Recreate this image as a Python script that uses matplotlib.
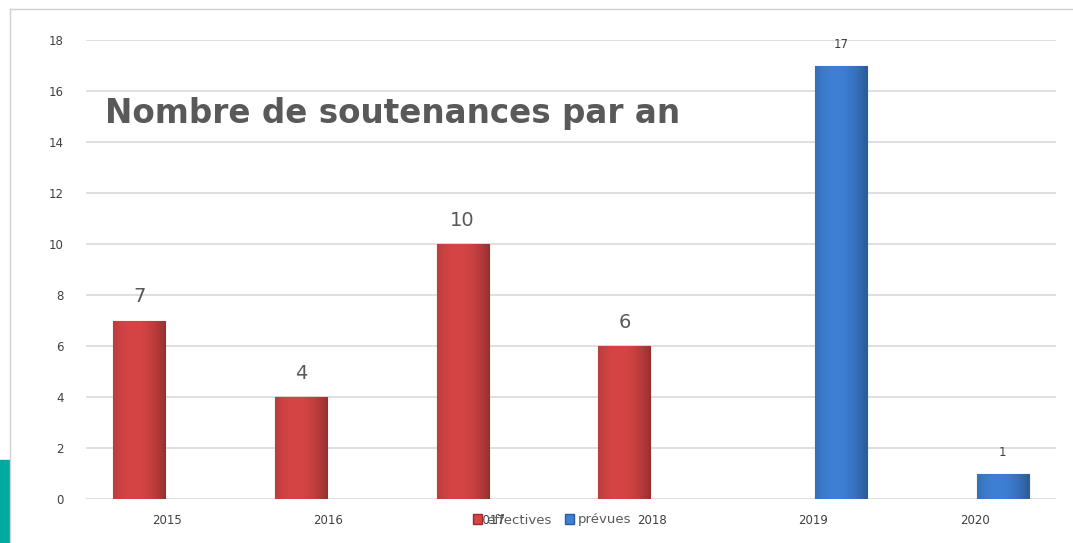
import matplotlib
matplotlib.use("Agg")
import matplotlib.pyplot as plt
import matplotlib.patches as mpatches
import numpy as np

years = ["2015", "2016", "2017", "2018", "2019", "2020"]
effectives = [7, 4, 10, 6, 0, 0]
prevues = [0, 0, 0, 0, 17, 1]
yticks = [0, 2, 4, 6, 8, 10, 12, 14, 16, 18]

red = "#d64545"
red_edge = "#9e2a2a"
blue = "#3d80d4"
blue_edge = "#2a5c9e"
text_gray = "#595959"

fig = plt.figure(figsize=(10.73, 5.43), dpi=100)
W, H = 1073, 543
ax = fig.add_axes([86 / W, 1 - 499 / H, (1056 - 86) / W, (499 - 40) / H])


def shaded_bar(xc, h, color, edge):
    # bar with a soft horizontal shading, like the office chart bevel
    b = ax.bar(xc, h, w, color=color, edgecolor=edge, linewidth=0.8, zorder=3)[0]
    rgb = np.array(matplotlib.colors.to_rgb(color))
    dark = rgb * 0.72
    t = np.linspace(0, 1, 64)
    prof = 1 - (np.abs(t - 0.4) / 0.6) ** 2
    img = dark[None, :] + (rgb - dark)[None, :] * prof[:, None]
    im = ax.imshow(img[None, :, :], extent=[xc - w / 2, xc + w / 2, 0, h],
                   aspect="auto", zorder=3.5, interpolation="bilinear")
    im.set_clip_path(b)


x = np.arange(len(years))
w = 0.32
off = 0.17
for i in range(len(years)):
    if effectives[i] > 0:
        shaded_bar(x[i] - off, effectives[i], red, red_edge)
        ax.text(x[i] - off, effectives[i] + 0.55, str(effectives[i]), ha="center", va="bottom",
                fontsize=14, color=text_gray)
    if prevues[i] > 0:
        shaded_bar(x[i] + off, prevues[i], blue, blue_edge)
        ax.text(x[i] + off, prevues[i] + 0.55, str(prevues[i]), ha="center", va="bottom",
                fontsize=8.5, color="#404040")

ax.set_xlim(-0.5, len(years) - 0.5)
ax.set_ylim(0, 18)
ax.set_yticks(yticks)
ax.set_xticks(x)
ax.set_xticklabels(years)
ax.tick_params(axis="both", length=0, labelsize=8.5, labelcolor="#404040")
ax.tick_params(axis="y", pad=16)
ax.tick_params(axis="x", pad=11)
ax.grid(axis="y", color="#d9d9d9", linewidth=1.2, zorder=0)
for s in ax.spines.values():
    s.set_visible(False)

# legend sits on the x tick label row
handles = [mpatches.Patch(facecolor=red, edgecolor=red_edge, label="effectives"),
           mpatches.Patch(facecolor=blue, edgecolor=blue_edge, label="prévues")]
leg = fig.legend(handles=handles, loc="center", bbox_to_anchor=(552 / W, 1 - 520 / H), ncol=2,
                 frameon=False, fontsize=9.5, handlelength=0.7, handleheight=0.7,
                 handletextpad=0.3, columnspacing=1.0)
for t in leg.get_texts():
    t.set_color(text_gray)

fig.text(105 / W, 1 - 113 / H, "Nombre de soutenances par an", fontsize=23.5, fontweight="bold",
         color=text_gray, ha="left", va="center")

# slide frame and teal strip
fig.add_artist(plt.Line2D([10 / W, 1], [1 - 9 / H, 1 - 9 / H], color="#d0d0d0", linewidth=1))
fig.add_artist(plt.Line2D([10 / W, 10 / W], [0, 1 - 9 / H], color="#d0d0d0", linewidth=1))
fig.add_artist(mpatches.Rectangle((0, 0), 9 / W, 83 / H, color="#00a99d", transform=fig.transFigure))

fig.savefig("out.png", dpi=100)
